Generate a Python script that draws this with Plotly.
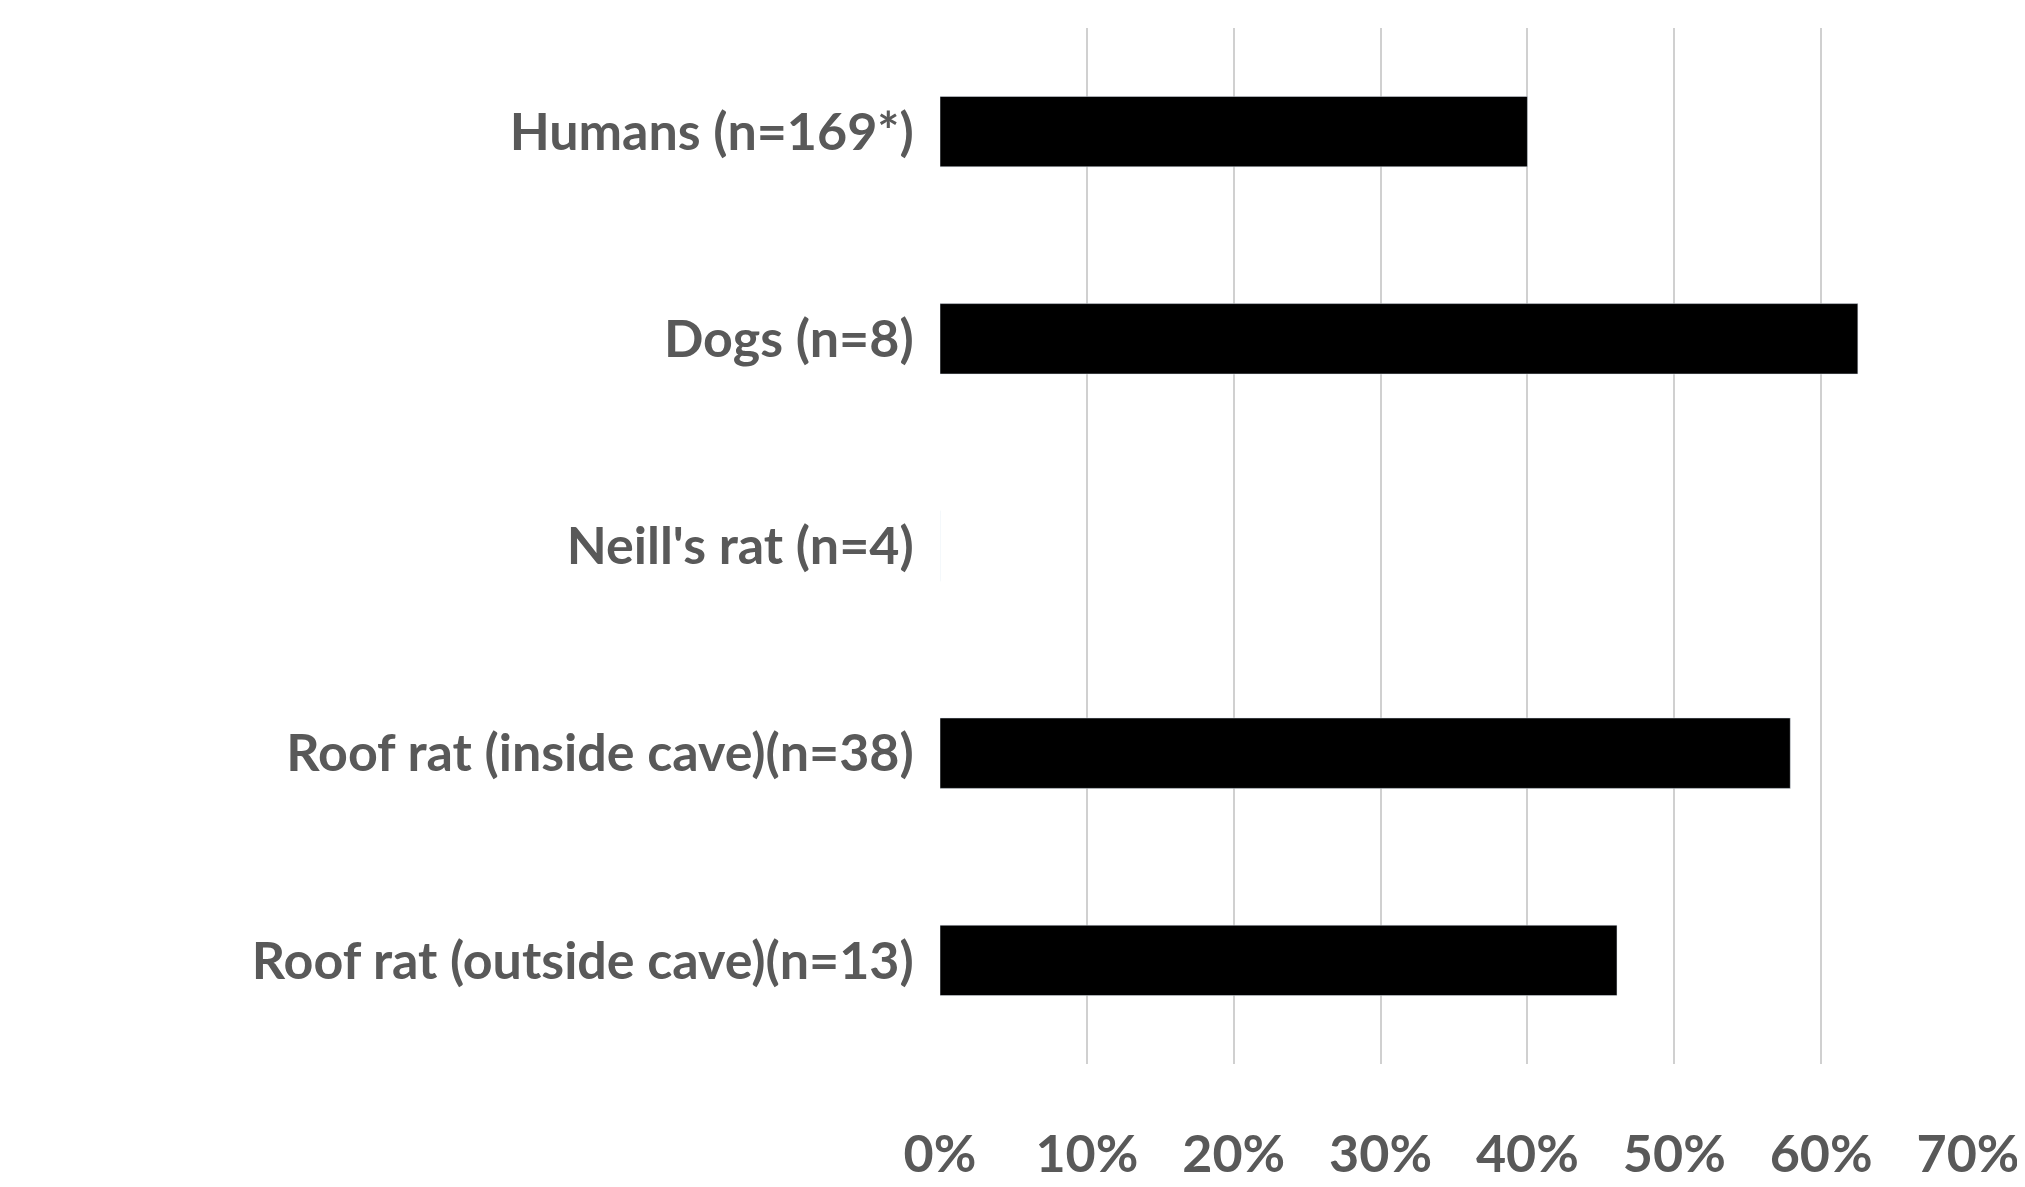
import plotly.graph_objects as go

categories = ["Roof rat (outside cave)(n=13)", "Roof rat (inside cave)(n=38)", "Neill's rat (n=4)", "Dogs (n=8)", "Humans (n=169*)"]
values = [0.461, 0.579, 0.0, 0.625, 0.40]
tickvals = [0, 0.1, 0.2, 0.3, 0.4, 0.5, 0.6, 0.7]
ticktext = ["0%", "10%", "20%", "30%", "40%", "50%", "60%", "70%"]

fig = go.Figure(go.Bar(y=categories, x=values, orientation="h", marker_color="black", width=0.34))
fig.update_layout(
    width=2025, height=1187, plot_bgcolor="white", paper_bgcolor="white",
    margin=dict(l=932, r=65, t=20, b=127),
    font=dict(family="Lato", size=52, color="#595959"),
    showlegend=False,
)
fig.update_xaxes(range=[0, 0.7], tickvals=tickvals, ticktext=ticktext, showgrid=True,
                 gridcolor="#d0d0d0", gridwidth=2, zeroline=False, ticklabelstandoff=55,
                 tickfont=dict(family="Lato", size=52, color="#595959", weight="bold"))
fig.update_yaxes(range=[-0.5, 4.5], ticksuffix="  ", tickfont=dict(family="Lato", size=52, color="#595959", weight="bold"))
fig.write_html("out.html")
